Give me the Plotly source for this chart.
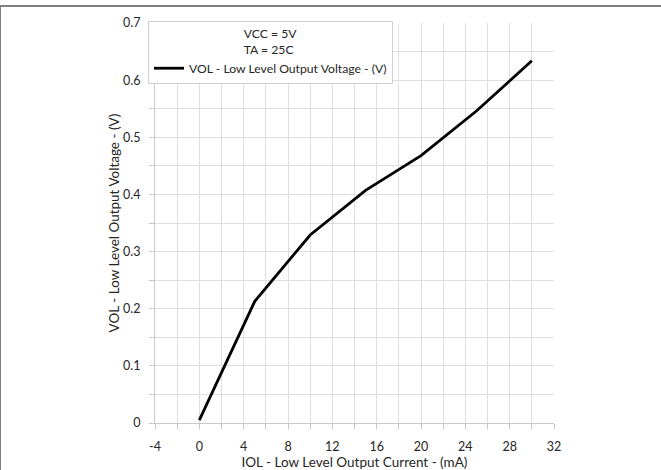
import plotly.graph_objects as go

iol_ma = [0, 5, 10, 15, 20, 25, 30]
vol_v = [0.005, 0.213, 0.329, 0.407, 0.468, 0.546, 0.634]

# gridlines every 2 mA / 0.05 V; only every other one is labelled
x_grid = [-4, -2, 0, 2, 4, 6, 8, 10, 12, 14, 16, 18, 20, 22, 24, 26, 28, 30, 32]
x_labels = ["-4", "", "0", "", "4", "", "8", "", "12", "", "16", "", "20", "", "24", "", "28", "", "32"]
y_grid = [0, 0.05, 0.1, 0.15, 0.2, 0.25, 0.3, 0.35, 0.4, 0.45, 0.5, 0.55, 0.6, 0.65, 0.7]
y_labels = ["0", "", "0.1", "", "0.2", "", "0.3", "", "0.4", "", "0.5", "", "0.6", "", "0.7"]

FONT = "Lato"
TXT = "#262626"
GRID = "#dedede"
AX = "#c8c8c8"

fig = go.Figure()
fig.add_trace(go.Scatter(
    x=iol_ma, y=vol_v, mode="lines",
    name="VOL - Low Level Output Voltage - (V)",
    line=dict(color="black", width=2.8),
))

L, R, T, B = 155, 107, 23, 47
W, H = 661, 470
pw, ph = W - L - R, H - T - B

def px_x(p):
    return (p - L) / pw

def px_y(p):
    return (H - B - p) / ph

fig.update_layout(
    width=W, height=H,
    margin=dict(l=L, r=R, t=T, b=B, autoexpand=False),
    paper_bgcolor="white", plot_bgcolor="white",
    font=dict(family=FONT, size=12, color=TXT),
    showlegend=True,
    legend=dict(
        x=px_x(148), y=px_y(21), xanchor="left", yanchor="top",
        bgcolor="white", bordercolor="#d0d0d0", borderwidth=1,
        font=dict(family=FONT, size=12.2, color=TXT),
        title=dict(text="VCC = 5V<br>TA = 25C", side="top center",
                   font=dict(family=FONT, size=12.2, color=TXT)),
        itemwidth=30,
    ),
    xaxis=dict(
        range=[-4, 32], tickmode="array", tickvals=x_grid, ticktext=x_labels,
        showgrid=True, gridcolor=GRID, gridwidth=1,
        showline=True, linecolor=AX, linewidth=1,
        ticks="outside", ticklen=5, tickcolor=AX,
        zeroline=False, automargin=False,
        title=dict(text="IOL - Low Level Output Current - (mA)", font=dict(family=FONT, size=13.5, color=TXT), standoff=4),
        tickfont=dict(family=FONT, size=12.5, color=TXT),
        ticklabelstandoff=7,
    ),
    yaxis=dict(
        range=[0, 0.7], tickmode="array", tickvals=y_grid, ticktext=y_labels,
        showgrid=True, gridcolor=GRID, gridwidth=1,
        showline=True, linecolor=AX, linewidth=1,
        ticks="outside", ticklen=5, tickcolor=AX,
        zeroline=False, automargin=False,
        title=dict(text="VOL - Low Level Output Voltage - (V)", font=dict(family=FONT, size=13.5, color=TXT), standoff=0),
        tickfont=dict(family=FONT, size=12.5, color=TXT),
        ticklabelstandoff=6,
    ),
    shapes=[
        dict(type="line", xref="paper", yref="paper", layer="above",
             x0=px_x(0), x1=px_x(661), y0=px_y(6), y1=px_y(6),
             line=dict(color="#808080", width=2)),
        dict(type="line", xref="paper", yref="paper", layer="above",
             x0=px_x(0.5), x1=px_x(0.5), y0=px_y(470), y1=px_y(6),
             line=dict(color="#808080", width=1)),
    ],
)

fig.write_html(
    "out.html",
    config={"displayModeBar": False},
    post_script="document.body.style.margin='0';document.body.style.overflow='hidden';",
)
